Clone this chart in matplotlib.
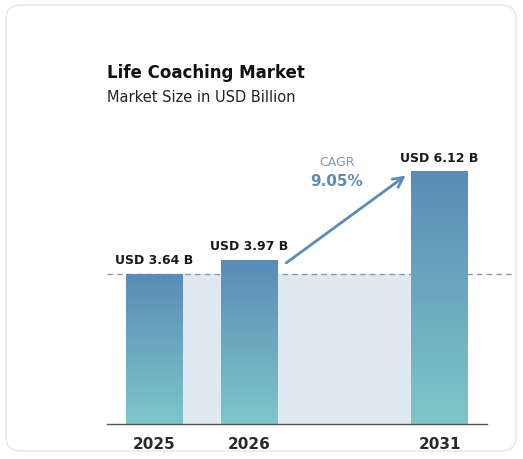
import numpy as np
import matplotlib
matplotlib.use('Agg')
import matplotlib.pyplot as plt
from matplotlib.patches import FancyBboxPatch, Rectangle
from matplotlib.colors import LinearSegmentedColormap

# data
years = ['2025', '2026', '2031']
values = [3.64, 3.97, 6.12]
cagr = '9.05%'

W, H = 523, 460
fig = plt.figure(figsize=(W / 100, H / 100), dpi=100)
fig.patch.set_facecolor('white')

# card outline (behind axes)
card = FancyBboxPatch((6 / W, 8 / H), 510 / W, 446 / H,
                      boxstyle='round,pad=0,rounding_size=0.03',
                      transform=fig.transFigure, facecolor='none',
                      edgecolor='#e6e6e6', lw=1.0, zorder=-1)
fig.patches.append(card)

# axes map: x_px = 154.5 + 95*pos, baseline at y_px 425
base = 425
ax = fig.add_axes([0, (H - base) / H, 1, base / H])
ax.patch.set_alpha(0)
ppu = 150 / values[0]
px = lambda x: (x - 154.5) / 95

pos = [0, 1, 3]
bw = 0.6
top = '#5a8cb6'
bot = '#7ec6c9'
cmap = LinearSegmentedColormap.from_list('g', [bot, top])

# shaded band
ax.add_patch(Rectangle((pos[0] + bw / 2, 0), pos[2] - pos[0] - bw, values[0],
                       facecolor='#dfe9f1', edgecolor='none', zorder=1))
ax.plot([px(107), px(515)], [values[0]] * 2, ls=(0, (4, 3)), color='#7d9bb5',
        lw=1, zorder=2)
ax.plot([px(107), px(487)], [0, 0], color='#555555', lw=1, zorder=4,
        clip_on=False)

grad = np.linspace(0, 1, 256).reshape(-1, 1)
for p, v, y in zip(pos, values, years):
    ax.imshow(grad, cmap=cmap, origin='lower', aspect='auto',
              extent=[p - bw / 2, p + bw / 2, 0, v], zorder=3)
    ax.text(p, v + 0.2, f'USD {v:.2f} B', ha='center', va='bottom',
            fontsize=9, fontweight='bold', color='#1a1a1a')
    ax.text(p, -0.3, y, ha='center', va='top', fontsize=11,
            fontweight='bold', color='#2a2a2a', clip_on=False)
ax.set_xlim((0 - 154.5) / 95, (W - 154.5) / 95)
ax.set_ylim(0, base / ppu)
ax.axis('off')

# CAGR arrow
ax.annotate('', xy=(px(408), values[2] - 0.05), xytext=(px(284), values[1] - 0.1),
            arrowprops=dict(arrowstyle='->', color='#5a8cb6', lw=2,
                            mutation_scale=18), zorder=5)
fig.text(337 / W, 1 - 163 / H, 'CAGR', ha='center', va='center',
         fontsize=9, color='#7d9bb5')
fig.text(337 / W, 1 - 182 / H, cagr, ha='center', va='center',
         fontsize=11, fontweight='bold', color='#5a8cb6')

fig.text(107 / W, 1 - 73 / H, 'Life Coaching Market', ha='left',
         va='center', fontsize=12, fontweight='bold', color='#111111')
fig.text(107 / W, 1 - 97 / H, 'Market Size in USD Billion', ha='left',
         va='center', fontsize=10.5, color='#222222')

fig.savefig('out.png', dpi=100)
